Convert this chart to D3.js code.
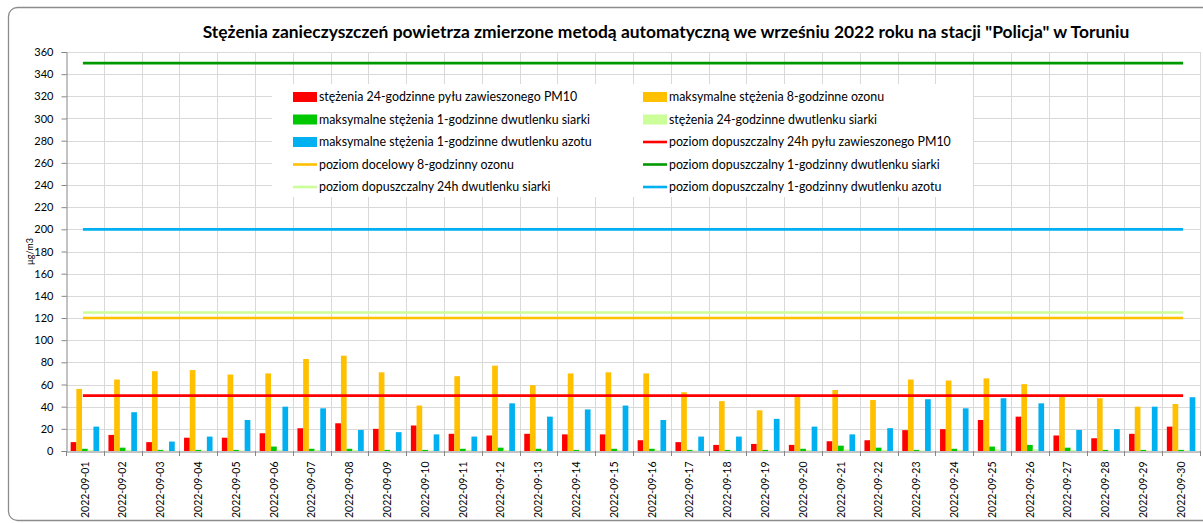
<!DOCTYPE html>
<html>
<head>
<meta charset="utf-8">
<script src="https://cdn.jsdelivr.net/npm/d3@7"></script>
<style>
  body { margin: 0; background: #fff; }
  text { font-family: Lato, "Open Sans", sans-serif; fill: #000; }
</style>
</head>
<body>
<svg id="chart" width="1203" height="523"></svg>
<script>
// data
var days = [];
for (var d = 1; d <= 30; d++) days.push('2022-09-' + (d < 10 ? '0' + d : d));

var pm10 = [8, 14.5, 8, 12, 12, 16, 20.5, 25, 20, 23, 15.5, 14, 15.5, 15, 15, 9.7, 8, 5.5, 6.4, 5.5, 8.8, 9.7, 18.8, 19.7, 28, 31, 14, 11.5, 15.5, 22];
var ozone8h = [56, 64.5, 72, 73, 69, 70, 83, 86, 71, 41, 67.5, 77, 59.4, 70, 71, 70, 53, 45, 36.7, 49.6, 55, 46, 64.5, 63.6, 65.5, 60.3, 50.3, 47.6, 40, 42.4];
var so2max1h = [2, 3, 1, 1, 1, 4, 2, 2, 1, 1, 2, 3, 2, 1, 2, 2, 1, 1, 1, 2, 4.8, 3, 1, 2, 4, 5.5, 3, 1, 1, 1];
var so2avg24h = [1, 1, 0.5, 0.5, 0.5, 1, 1, 1, 0.5, 0.5, 1, 1, 1, 0.5, 1, 1, 0.5, 0.5, 0.5, 1, 1.5, 1, 0.5, 1, 1.5, 1.5, 1, 0.5, 0.5, 0.5];
var no2max1h = [22, 35, 8.5, 13, 28, 40, 38.5, 19, 17, 15, 13, 43, 31, 37.5, 41, 28, 13, 13, 29, 22, 15, 20.6, 46.7, 38.5, 47.6, 43, 19, 19.7, 40, 48.5];

var barNames = [
  'stężenia 24-godzinne pyłu zawieszonego PM10',
  'maksymalne stężenia 8-godzinne ozonu',
  'maksymalne stężenia 1-godzinne dwutlenku siarki',
  'stężenia 24-godzinne dwutlenku siarki',
  'maksymalne stężenia 1-godzinne dwutlenku azotu'
];
var barColors = ['#ff0000', '#ffc000', '#00c800', '#ccff99', '#00b0f0'];

var limitNames = [
  'poziom dopuszczalny 24h pyłu zawieszonego PM10',
  'poziom docelowy 8-godzinny ozonu',
  'poziom dopuszczalny 1-godzinny dwutlenku siarki',
  'poziom dopuszczalny 24h dwutlenku siarki',
  'poziom dopuszczalny 1-godzinny dwutlenku azotu'
];
var limitValues = [50, 120, 350, 125, 200];
var limitColors = ['#ff0000', '#ffc000', '#009900', '#ccff99', '#00b0f0'];

var yTicks = d3.range(0, 361, 20);
var title = 'Stężenia zanieczyszczeń powietrza zmierzone metodą automatyczną we wrześniu 2022 roku na stacji "Policja" w Toruniu';

var svg = d3.select('#chart');
var plotLeft = 66, plotRight = 1200, plotTop = 52, plotBottom = 451;

// outer frame of the chart
svg.append('rect')
  .attr('x', 8.5).attr('y', 7.5)
  .attr('width', 1220).attr('height', 513)
  .attr('rx', 9)
  .attr('fill', '#fff')
  .attr('stroke', '#8c8c8c')
  .attr('stroke-width', 1.3);

svg.append('text')
  .attr('x', 666).attr('y', 38)
  .attr('text-anchor', 'middle')
  .style('font-size', '17.4px')
  .style('font-weight', 'bold')
  .text(title);

var x = d3.scaleBand().domain(days).range([plotLeft, plotRight]).padding(0);
var y = d3.scaleLinear().domain([0, 360]).range([plotBottom, plotTop]);

var series = barNames.map(function(n, i) { return i; });
var xInner = d3.scaleBand().domain(series).range([0, x.bandwidth()])
  .paddingInner(0).paddingOuter(0.815);

// grid
var grid = svg.append('g');
grid.selectAll('.hg').data(yTicks.slice(1)).enter().append('line')
  .attr('x1', plotLeft).attr('x2', plotRight)
  .attr('y1', function(d) { return Math.round(y(d)) + 0.5; })
  .attr('y2', function(d) { return Math.round(y(d)) + 0.5; })
  .attr('stroke', '#d9d9d9').attr('stroke-width', 1);
grid.selectAll('.vg').data(d3.range(1, days.length + 1)).enter().append('line')
  .attr('x1', function(i) { return Math.round(plotLeft + i * x.step()) + 0.5; })
  .attr('x2', function(i) { return Math.round(plotLeft + i * x.step()) + 0.5; })
  .attr('y1', plotTop).attr('y2', plotBottom)
  .attr('stroke', '#d9d9d9').attr('stroke-width', 1);

// axes
var yAxis = svg.append('g')
  .attr('transform', 'translate(' + (plotLeft + 0.5) + ',0)')
  .call(d3.axisLeft(y).tickValues(yTicks).tickSize(5).tickPadding(8));
yAxis.select('.domain').attr('stroke', '#868686');
yAxis.selectAll('.tick line').attr('stroke', '#868686');
yAxis.selectAll('.tick text').style('font-size', '11px').attr('fill', '#000');

var xAxis = svg.append('g')
  .attr('transform', 'translate(0,' + (plotBottom + 0.5) + ')')
  .call(d3.axisBottom(x).tickSize(0).tickSizeOuter(0));
xAxis.select('.domain').attr('stroke', '#868686');
xAxis.selectAll('.tick text')
  .style('font-size', '10.5px')
  .attr('fill', '#000')
  .attr('transform', 'rotate(-90)')
  .attr('text-anchor', 'end')
  .attr('x', -10).attr('y', 0).attr('dy', '0.35em');
svg.append('g').selectAll('line').data(d3.range(0, days.length + 1)).enter().append('line')
  .attr('x1', function(i) { return Math.round(plotLeft + i * x.step()) + 0.5; })
  .attr('x2', function(i) { return Math.round(plotLeft + i * x.step()) + 0.5; })
  .attr('y1', plotBottom).attr('y2', plotBottom + 5)
  .attr('stroke', '#868686');

svg.append('text')
  .attr('transform', 'translate(33,' + ((plotTop + plotBottom) / 2) + ') rotate(-90)')
  .attr('text-anchor', 'middle')
  .style('font-size', '9px')
  .text('µg/m3');

// bars
var barData = [pm10, ozone8h, so2max1h, so2avg24h, no2max1h];
barData.forEach(function(vals, si) {
  svg.append('g').selectAll('rect').data(vals).enter().append('rect')
    .attr('x', function(v, i) { return x(days[i]) + xInner(si); })
    .attr('width', xInner.bandwidth())
    .attr('y', function(v) { return y(v); })
    .attr('height', function(v) { return plotBottom - y(v); })
    .attr('fill', barColors[si]);
});

// limit lines
var xc = function(i) { return x(days[i]) + x.bandwidth() / 2; };
limitValues.forEach(function(v, i) {
  svg.append('line')
    .attr('x1', xc(0) - 2).attr('x2', xc(days.length - 1) + 2)
    .attr('y1', y(v)).attr('y2', y(v))
    .attr('stroke', limitColors[i])
    .attr('stroke-width', 2.6);
});

// legend
var legend = svg.append('g');
legend.append('rect')
  .attr('x', 272).attr('y', 84).attr('width', 701).attr('height', 113)
  .attr('fill', '#fff');
var items = barNames.map(function(n, i) { return {name: n, color: barColors[i], type: 'bar'}; })
  .concat(limitNames.map(function(n, i) { return {name: n, color: limitColors[i], type: 'line'}; }));
items.forEach(function(it, i) {
  var col = i % 2, row = Math.floor(i / 2);
  var lx = col === 0 ? 293 : 643;
  var ly = 97 + row * 22.5;
  if (it.type === 'bar') {
    legend.append('rect')
      .attr('x', lx).attr('y', ly - 5).attr('width', 24).attr('height', 10)
      .attr('fill', it.color);
  } else {
    legend.append('line')
      .attr('x1', lx).attr('x2', lx + 24)
      .attr('y1', ly).attr('y2', ly)
      .attr('stroke', it.color).attr('stroke-width', 2.6);
  }
  legend.append('text')
    .attr('x', lx + 26).attr('y', ly).attr('dy', '0.35em')
    .style('font-size', '12.4px')
    .text(it.name);
});
</script>
</body>
</html>
